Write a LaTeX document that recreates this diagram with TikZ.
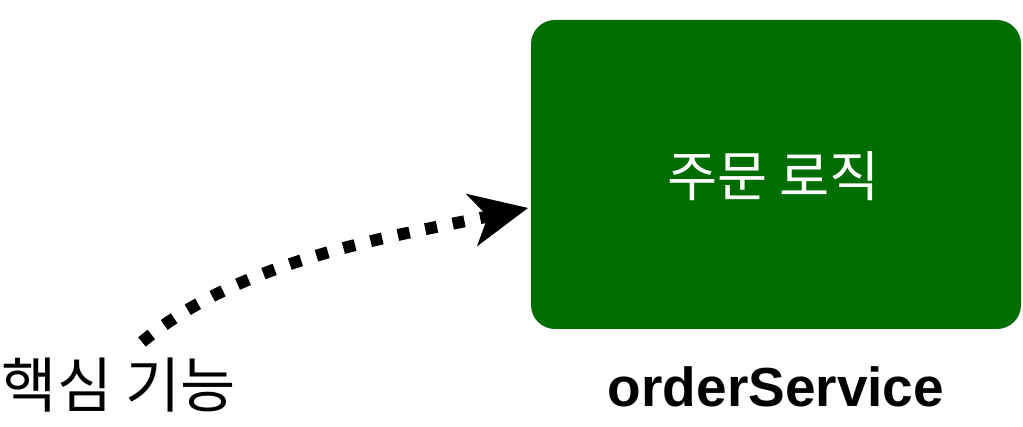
\documentclass[tikz,border=0pt]{standalone}
\usepackage{fontspec}
\setmainfont{Liberation Sans}
\newfontfamily\krfont{Noto Sans CJK KR}
\usetikzlibrary{arrows.meta}
\definecolor{boxgreen}{RGB}{0,109,0}
\tikzset{
  greenbox/.style={draw=none, fill=boxgreen, rounded corners=24pt, minimum width=490pt, minimum height=309pt, inner sep=0pt},
  boxtext/.style={text=white, font=\krfont\fontsize{54.5}{62}\selectfont},
  labeltext/.style={font=\krfont\fontsize{60}{68}\selectfont, inner sep=0pt},
  nametext/.style={font=\bfseries\fontsize{55}{62}\selectfont, inner sep=0pt},
  dotarrow/.style={line width=12pt, dash pattern=on 12pt off 16pt, -{Stealth[length=58pt,width=54pt,inset=17pt,line width=0pt]}}
}
\begin{document}
\begin{tikzpicture}[x=1pt,y=-1pt]
\useasboundingbox (0,0) rectangle (1023,427);
\node[greenbox] (box) at (776,174.5) {};
\node[boxtext] (boxlbl) at (773.5,176) {주문 로직};
\node[nametext] (name) at (776,387) {orderService};
\node[labeltext] (core) at (119,385) {핵심 기능};
\coordinate (start) at (142,342);
\coordinate (tip) at (528,208);
\draw[dotarrow] (start) .. controls (242,258) and (401,235) .. (tip);
\end{tikzpicture}
\end{document}
